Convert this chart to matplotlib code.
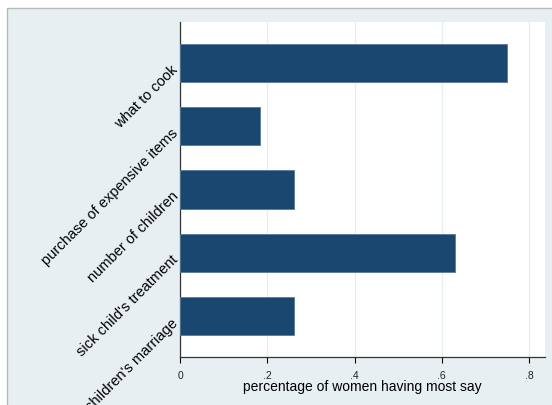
import matplotlib.pyplot as plt
from matplotlib.patches import Rectangle

# decision areas, top to bottom
categories = ["what to cook", "purchase of expensive items", "number of children",
              "sick child's treatment", "children's marriage"]
shares = [0.749, 0.183, 0.261, 0.630, 0.261]
xticks = [0, 0.2, 0.4, 0.6, 0.8]
xtick_labels = ["0", ".2", ".4", ".6", ".8"]

plt.rcParams['font.family'] = ['Liberation Sans', 'DejaVu Sans']

W, H = 552, 405
fig = plt.figure(figsize=(W / 100, H / 100), dpi=100)
fig.patch.set_facecolor('white')

# Stata-style graph region, cropped on the right and bottom
bg = Rectangle((7 / W, -0.05), 1.1, 1 - 8 / H + 0.05, transform=fig.transFigure,
               facecolor='#e8eff2', edgecolor='#b8b8b8', linewidth=1, zorder=-5)
fig.patches.append(bg)

ax = fig.add_axes([180 / W, 1 - 357 / H, 365 / W, 335 / H])
ax.set_facecolor('white')

pos = list(range(len(categories)))
ax.barh(pos, shares, height=0.6, color='#1a476f', edgecolor='#5a7a99', linewidth=0.6, zorder=3)

ax.set_ylim(len(categories) - 1 + 0.64, -0.64)
ax.set_xlim(0, 365 / 436.25)

ax.set_xticks(xticks)
ax.set_xticklabels(xtick_labels, fontsize=7.5, color='#222222')
ax.grid(axis='x', color='#e4edef', linewidth=0.9, zorder=0)
ax.tick_params(axis='x', length=4, width=0.8, pad=6)

ax.set_yticks(pos)
ax.set_yticklabels(categories, rotation=45, ha='right', va='top',
                   rotation_mode='anchor', fontsize=10.5)
ax.tick_params(axis='y', length=0, pad=6.5)

for side in ['top', 'right']:
    ax.spines[side].set_visible(False)
for side in ['left', 'bottom']:
    ax.spines[side].set_linewidth(0.9)
    ax.spines[side].set_color('#333333')

ax.set_xlabel("percentage of women having most say", fontsize=10, labelpad=-1)

fig.savefig("out.png", dpi=100)
